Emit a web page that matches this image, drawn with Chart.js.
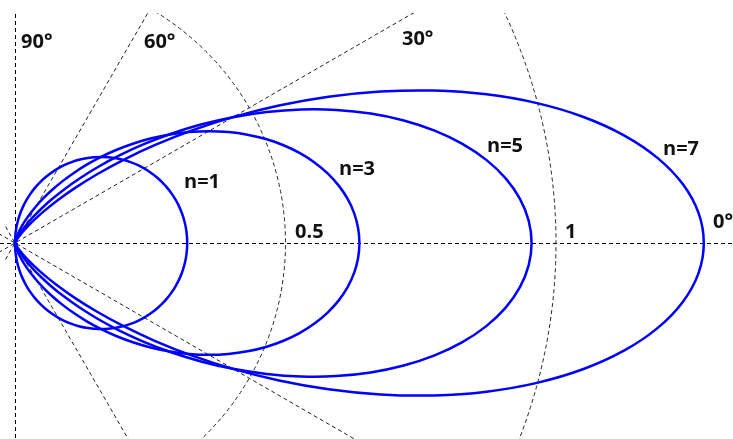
<!DOCTYPE html>
<html>
<head>
<meta charset="utf-8">
<title>cosⁿ radiation patterns</title>
<script src="https://cdn.jsdelivr.net/npm/chart.js@4/dist/chart.umd.min.js"></script>
<style>
  html, body { margin: 0; padding: 0; background: #fff; }
  #wrap { width: 733px; height: 439px; }
</style>
</head>
<body>
<div id="wrap"><canvas id="chart" width="733" height="439"></canvas></div>
<script>
// Polar angle (degrees from the 0° axis) at which each radius is given
const angles = [0, 2.5, 5, 7.5, 10, 12.5, 15, 17.5, 20, 22.5, 25, 27.5, 30, 32.5, 35, 37.5, 40, 42.5,
                45, 47.5, 50, 52.5, 55, 57.5, 60, 62.5, 65, 67.5, 70, 72.5, 75, 77.5, 80, 82.5, 85, 87.5, 90];

// Radius of each lobe at those angles (symmetric about 0°)
const lobeN1 = [0.3183, 0.3180, 0.3171, 0.3156, 0.3135, 0.3108, 0.3075, 0.3036, 0.2991, 0.2941,
                0.2885, 0.2823, 0.2757, 0.2685, 0.2607, 0.2525, 0.2438, 0.2347, 0.2251, 0.2150,
                0.2046, 0.1938, 0.1826, 0.1710, 0.1592, 0.1470, 0.1345, 0.1218, 0.1089, 0.0957,
                0.0824, 0.0689, 0.0553, 0.0415, 0.0277, 0.0139, 0];
const lobeN3 = [0.6366, 0.6348, 0.6294, 0.6204, 0.6080, 0.5924, 0.5737, 0.5523, 0.5282, 0.5020,
                0.4739, 0.4443, 0.4135, 0.3819, 0.3499, 0.3179, 0.2862, 0.2551, 0.2251, 0.1963,
                0.1691, 0.1436, 0.1201, 0.0987, 0.0796, 0.0627, 0.0481, 0.0357, 0.0255, 0.0173,
                0.0110, 0.0065, 0.0033, 0.0014, 0.0004, 0.0001, 0];
const lobeN5 = [0.9549, 0.9504, 0.9369, 0.9148, 0.8846, 0.8470, 0.8030, 0.7535, 0.6997, 0.6428,
                0.5839, 0.5243, 0.4652, 0.4075, 0.3522, 0.3001, 0.2519, 0.2080, 0.1688, 0.1344,
                0.1048, 0.0798, 0.0593, 0.0428, 0.0298, 0.0200, 0.0129, 0.0078, 0.0045, 0.0023,
                0.0011, 0.0005, 0.0002, 0, 0, 0, 0];
const lobeN7 = [1.2732, 1.2648, 1.2397, 1.1989, 1.1438, 1.0764, 0.9989, 0.9138, 0.8238, 0.7315,
                0.6395, 0.5501, 0.4652, 0.3865, 0.3151, 0.2519, 0.1971, 0.1508, 0.1125, 0.0818,
                0.0577, 0.0394, 0.0260, 0.0165, 0.0099, 0.0057, 0.0031, 0.0015, 0.0007, 0.0003,
                0.0001, 0, 0, 0, 0, 0, 0];
const lobeNames = ['n=1', 'n=3', 'n=5', 'n=7'];

// Polar grid
const gridRadii = [0.5, 1];
const gridRadiusLabels = ['0.5', '1'];
const gridAngles = [30, 60, -30, -60];
const gridAngleLabels = ['90°', '60°', '30°', '0°'];

const deg = Math.PI / 180;

// Full closed lobe: sweep -90° .. 90° using the mirrored half
function lobePoints(radii) {
  const pts = [];
  for (let i = angles.length - 1; i >= 0; i--) {
    const a = -angles[i] * deg;
    pts.push({ x: radii[i] * Math.cos(a), y: radii[i] * Math.sin(a) });
  }
  for (let i = 1; i < angles.length; i++) {
    const a = angles[i] * deg;
    pts.push({ x: radii[i] * Math.cos(a), y: radii[i] * Math.sin(a) });
  }
  return pts;
}

const lobes = [lobeN1, lobeN3, lobeN5, lobeN7];

// Text placed in data coordinates (left, baseline)
const textItems = [
  { text: gridAngleLabels[0], x: 0.0111, y: 0.3604 },
  { text: gridAngleLabels[1], x: 0.2384, y: 0.3604 },
  { text: gridAngleLabels[2], x: 0.7153, y: 0.3660 },
  { text: gridAngleLabels[3], x: 1.2902, y: 0.0277 },
  { text: gridRadiusLabels[0], x: 0.5176, y: 0.0092 },
  { text: gridRadiusLabels[1], x: 1.0166, y: 0.0092 },
  { text: lobeNames[0], x: 0.3124, y: 0.1017 },
  { text: lobeNames[1], x: 0.5989, y: 0.1257 },
  { text: lobeNames[2], x: 0.8725, y: 0.1682 },
  { text: lobeNames[3], x: 1.1978, y: 0.1627 }
];

const polarGrid = {
  id: 'polarGrid',
  beforeDatasetsDraw(chart) {
    const { ctx, scales: { x, y }, chartArea } = chart;
    const ox = x.getPixelForValue(0), oy = y.getPixelForValue(0);
    const unit = x.getPixelForValue(1) - ox;
    ctx.save();
    ctx.beginPath();
    ctx.rect(chartArea.left, chartArea.top + 13, chartArea.right - chartArea.left, chartArea.bottom - chartArea.top);
    ctx.clip();
    ctx.strokeStyle = '#000';
    ctx.lineWidth = 1;
    ctx.setLineDash([4, 3]);
    // 0° axis and 90° axis
    ctx.beginPath();
    ctx.moveTo(chartArea.left, oy + 0.5);
    ctx.lineTo(chartArea.right, oy + 0.5);
    ctx.moveTo(ox + 0.5, chartArea.top);
    ctx.lineTo(ox + 0.5, chartArea.bottom);
    ctx.stroke();
    // oblique spokes
    ctx.strokeStyle = '#222';
    gridAngles.forEach(a => {
      const c = Math.cos(a * deg), s = Math.sin(a * deg);
      ctx.beginPath();
      ctx.moveTo(x.getPixelForValue(-0.035 * c), y.getPixelForValue(-0.035 * s));
      ctx.lineTo(x.getPixelForValue(2 * c), y.getPixelForValue(2 * s));
      ctx.stroke();
    });
    // constant-radius arcs
    gridRadii.forEach(r => {
      ctx.beginPath();
      ctx.arc(ox, oy, r * unit, -Math.PI / 2, Math.PI / 2);
      ctx.stroke();
    });
    ctx.restore();
  },
  afterDraw(chart) {
    const { ctx, scales: { x, y } } = chart;
    ctx.save();
    ctx.fillStyle = '#111';
    ctx.font = 'bold 20px "Open Sans", sans-serif';
    ctx.textAlign = 'left';
    ctx.textBaseline = 'alphabetic';
    textItems.forEach(t => {
      ctx.fillText(t.text, x.getPixelForValue(t.x), y.getPixelForValue(t.y));
    });
    ctx.restore();
  }
};

const pxPerUnit = 541, originX = 15, originY = 243, W = 733, H = 439;

new Chart(document.getElementById('chart'), {
  type: 'scatter',
  data: {
    datasets: lobes.map((r, i) => ({
      label: lobeNames[i],
      data: lobePoints(r),
      showLine: true,
      borderColor: '#0000ff',
      borderWidth: 2.5,
      pointRadius: 0,
      tension: 0.3,
      fill: false
    }))
  },
  options: {
    responsive: false,
    animation: false,
    events: [],
    layout: { padding: 0 },
    plugins: { legend: { display: false }, tooltip: { enabled: false } },
    scales: {
      x: { type: 'linear', display: false, min: -originX / pxPerUnit, max: (W - originX) / pxPerUnit },
      y: { type: 'linear', display: false, min: -(H - originY) / pxPerUnit, max: originY / pxPerUnit }
    }
  },
  plugins: [polarGrid]
});
</script>
</body>
</html>
